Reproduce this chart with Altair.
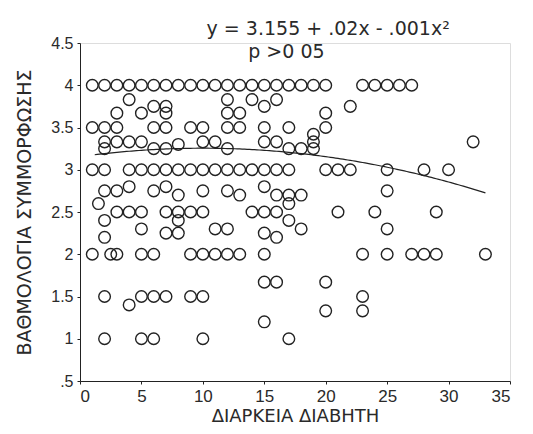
import altair as alt
import pandas as pd

# Scatter data: duration (years) vs compliance score
x_vals = (
    list(range(1, 21)) + [23, 24, 25, 26, 27]
    + [3, 4, 5, 6, 7, 7, 12, 12, 13, 14, 15, 16, 20, 22]
    + [1, 2, 3, 6, 7, 9, 10, 12, 13, 15, 17, 20, 19]
    + [2, 2, 3, 4, 5, 6, 7, 8, 10, 11, 12, 15, 16, 17, 18, 19, 19, 32]
    + [1, 2, 4, 5, 6, 7, 8, 9, 10, 11, 12, 13, 14, 15, 16, 17, 20, 21, 22, 25, 28, 30]
    + [2, 3, 4, 6, 7, 8, 10, 12, 13, 15, 16, 17, 18, 25, 1.5]
    + [3, 4, 5, 7, 8, 9, 10, 14, 15, 16, 21, 24, 29, 17]
    + [2, 2, 5, 7, 8, 8, 11, 12, 15, 16, 17, 18, 25]
    + [1, 2.5, 3, 5, 6, 9, 10, 11, 12, 13, 15, 23, 25, 27, 28, 29, 33]
    + [15, 16, 20]
    + [2, 5, 6, 7, 9, 10, 23, 4]
    + [20, 23, 15]
    + [2, 5, 6, 10, 17]
)
y_vals = (
    [4] * 25
    + [3.67, 3.83, 3.67, 3.75, 3.75, 3.67, 3.83, 3.67, 3.67, 3.83, 3.75, 3.83, 3.67, 3.75]
    + [3.5] * 12 + [3.42]
    + [3.33, 3.25, 3.33, 3.33, 3.33, 3.25, 3.25, 3.3, 3.33, 3.33, 3.25, 3.33, 3.33, 3.25, 3.25, 3.25, 3.33, 3.33]
    + [3] * 22
    + [2.75, 2.75, 2.8, 2.75, 2.8, 2.7, 2.75, 2.75, 2.7, 2.8, 2.7, 2.7, 2.7, 2.75, 2.6]
    + [2.5] * 13 + [2.6]
    + [2.4, 2.2, 2.3, 2.25, 2.25, 2.4, 2.3, 2.3, 2.25, 2.2, 2.4, 2.3, 2.3]
    + [2] * 17
    + [1.67, 1.67, 1.67]
    + [1.5] * 7 + [1.4]
    + [1.33, 1.33, 1.2]
    + [1] * 5
)

# Fit coefficients shown in the annotation
coef = [3.155, 0.02, -0.001]
fit_range = [1.2, 33.0]

annot_text = ["y = 3.155 + .02x - .001x²", "p >0 05"]
annot_x = [20.2, 16.8]
annot_y = [4.66, 4.39]

x_ticks = [0, 5, 10, 15, 20, 25, 30, 35]
y_ticks = [0.5, 1, 1.5, 2, 2.5, 3, 3.5, 4, 4.5]

df = pd.DataFrame({"x": x_vals, "y": y_vals})
ann = pd.DataFrame({"t": annot_text, "x": annot_x, "y": annot_y})

FONT = "Liberation Sans"
WIDE = "DejaVu Sans"
TXT = "#2a2a2a"

xscale = alt.Scale(domain=[0, 35], nice=False, zero=False)
yscale = alt.Scale(domain=[0.5, 4.5], nice=False, zero=False)

xaxis = alt.Axis(
    values=x_ticks, title="ΔΙΑΡΚΕΙΑ ΔΙΑΒΗΤΗ", grid=False, tickSize=3,
    labelFontSize=17, labelFont=FONT, labelColor=TXT, labelPadding=4,
    titleFontSize=18, titleFont=WIDE, titleColor=TXT, titleFontWeight="normal",
    titlePadding=3, domainColor="#222", tickColor="#222",
)
yaxis = alt.Axis(
    values=y_ticks, title="ΒΑΘΜΟΛΟΓΙΑ ΣΥΜΜΟΡΦΩΣΗΣ", grid=False, tickSize=3,
    labelExpr="datum.value == 0.5 ? '.5' : format(datum.value, '')",
    labelFontSize=16, labelFont=FONT, labelColor=TXT, labelPadding=4,
    titleFontSize=19, titleFont=WIDE, titleColor=TXT, titleFontWeight="normal",
    titlePadding=16, domainColor="#222", tickColor="#222",
)

points = alt.Chart(df).mark_point(
    shape="circle", filled=False, size=135, stroke="#222", strokeWidth=1.4, opacity=1
).encode(
    x=alt.X("x:Q", scale=xscale, axis=xaxis),
    y=alt.Y("y:Q", scale=yscale, axis=yaxis),
)

curve = alt.Chart(alt.sequence(fit_range[0], fit_range[1] + 0.01, 0.2, as_="x")).transform_calculate(
    y=f"{coef[0]} + {coef[1]}*datum.x + {coef[2]}*datum.x*datum.x"
).mark_line(color="#222", strokeWidth=1.2).encode(
    x=alt.X("x:Q", scale=xscale),
    y=alt.Y("y:Q", scale=yscale),
)

labels = alt.Chart(ann).mark_text(
    font=WIDE, fontSize=19, color=TXT, align="center", baseline="middle", clip=False
).encode(
    x=alt.X("x:Q", scale=xscale),
    y=alt.Y("y:Q", scale=yscale),
    text="t:N",
)

chart = alt.layer(points, curve, labels).properties(
    width=430, height=338,
    autosize=alt.AutoSizeParams(type="none"),
    padding={"left": 72, "top": 35, "right": 15, "bottom": 45},
).configure_view(stroke=None).configure(background="white")

chart.save("out.html", embed_options={"renderer": "svg", "actions": False})
